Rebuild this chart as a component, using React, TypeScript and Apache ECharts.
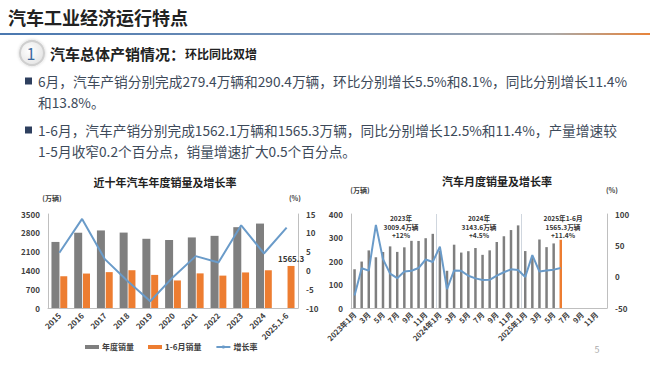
import React, { useEffect, useRef } from "react";
import * as echarts from "echarts";

const FONT = "'Noto Sans CJK SC', 'Noto Sans', sans-serif";

// Left chart: annual sales
const years = ["2015", "2016", "2017", "2018", "2019", "2020", "2021", "2022", "2023", "2024", "2025.1-6"];
const annualSales = [2459.8, 2802.8, 2887.9, 2808.1, 2576.9, 2531.1, 2627.5, 2686.4, 3009.4, 3143.6, null];
const halfYearSales = [1184.8, 1282.9, 1335.6, 1406.7, 1232.3, 1025.7, 1289.1, 1205.7, 1323.9, 1404.7, 1565.3];
const annualGrowth = [4.7, 13.7, 3.0, -2.8, -8.2, -1.8, 3.8, 2.1, 12.0, 4.5, 11.4];

// Right chart: monthly sales
const months = [
  "2023年1月", "2月", "3月", "4月", "5月", "6月", "7月", "8月", "9月", "10月", "11月", "12月",
  "2024年1月", "2月", "3月", "4月", "5月", "6月", "7月", "8月", "9月", "10月", "11月", "12月",
  "2025年1月", "2月", "3月", "4月", "5月", "6月", "7月", "8月", "9月", "10月", "11月", "12月",
];
const monthlySales = [
  164.9, 197.6, 245.1, 215.9, 238.2, 262.2, 238.7, 258.2, 285.8, 285.3, 297.0, 315.6,
  243.9, 158.4, 269.4, 235.9, 241.7, 255.2, 226.2, 245.3, 280.9, 305.3, 331.7, 351.6,
  242.3, 212.9, 291.5, 259.0, 274.8, 290.4,
];
const monthlyGrowth = [
  -30, 13.5, 9.7, 82.7, 27.9, 4.8, -2.4, 8.2, 9.5, 13.8, 27.4, 23.5,
  47.9, -19.9, 9.9, 9.3, 1.5, -2.7, -5.2, -5.0, 1.7, 7.0, 11.7, 10.5,
  -0.6, 34.4, 8.2, 9.8, 11.2, 13.8,
];

const annotations = [
  { x: 401, lines: ["2023年", "3009.4万辆", "+12%"] },
  { x: 479, lines: ["2024年", "3143.6万辆", "+4.5%"] },
  { x: 563, lines: ["2025年1-6月", "1565.3万辆", "+11.4%"] },
];

const bullets = [
  { y: 81, text: "6月，汽车产销分别完成279.4万辆和290.4万辆，环比分别增长5.5%和8.1%，同比分别增长11.4%", square: true },
  { y: 102, text: "和13.8%。", square: false },
  { y: 130, text: "1-6月，汽车产销分别完成1562.1万辆和1565.3万辆，同比分别增长12.5%和11.4%，产量增速较", square: true },
  { y: 151, text: "1-5月收窄0.2个百分点，销量增速扩大0.5个百分点。", square: false },
];

const GREY = "#7f7f7f";
const ORANGE = "#ed7d31";
const BLUE = "#6a9bc9";
const AXIS = "#bfbfbf";
const LABEL = "#404040";

export default function App() {
  const ref = useRef<HTMLDivElement>(null);
  useEffect(() => {
    if (!ref.current) return;
    const chart = echarts.init(ref.current, undefined, { renderer: "svg" });

    const axisLabel = { fontSize: 8, fontWeight: "bold", color: LABEL, fontFamily: FONT };
    const plain = (v: number) => String(v);

    const graphic: any[] = [
      {
        type: "text",
        style: { text: "汽车工业经济运行特点", x: 8, y: 17, fontSize: 18, fontWeight: "bold", fill: "#222", fontFamily: FONT, verticalAlign: "middle" },
      },
      {
        type: "rect",
        shape: { x: 0, y: 33, width: 650, height: 2 },
        style: {
          fill: new echarts.graphic.LinearGradient(0, 0, 1, 0, [
            { offset: 0, color: "#4a78b0" },
            { offset: 0.6, color: "#7f98b8" },
            { offset: 0.85, color: "#a9a9a9" },
            { offset: 1, color: "#e8843a" },
          ]),
        },
      },
      {
        type: "circle",
        shape: { cx: 32, cy: 53, r: 12 },
        style: {
          fill: new echarts.graphic.RadialGradient(0.4, 0.4, 0.7, [
            { offset: 0, color: "#ffffff" },
            { offset: 1, color: "#e2e2e2" },
          ]),
          stroke: "#cfcfcf",
          lineWidth: 2,
          shadowBlur: 3,
          shadowColor: "rgba(0,0,0,0.2)",
        },
      },
      {
        type: "text",
        style: { text: "1", x: 31, y: 53, fontSize: 16, fill: "#3b6aa0", fontFamily: FONT, align: "center", verticalAlign: "middle" },
      },
      {
        type: "text",
        style: {
          text: "{a|汽车总体产销情况：}{b|环比同比双增}",
          x: 50,
          y: 53,
          verticalAlign: "middle",
          rich: {
            a: { fontSize: 15, fontWeight: "bold", fill: "#222", fontFamily: FONT },
            b: { fontSize: 12, fontWeight: "bold", fill: "#222", fontFamily: FONT },
          },
        },
      },
      {
        type: "text",
        style: { text: "近十年汽车年度销量及增长率", x: 165, y: 182, fontSize: 11, fontWeight: "bold", fill: "#222", fontFamily: FONT, align: "center", verticalAlign: "middle" },
      },
      {
        type: "text",
        style: { text: "汽车月度销量及增长率", x: 497, y: 181, fontSize: 11, fontWeight: "bold", fill: "#222", fontFamily: FONT, align: "center", verticalAlign: "middle" },
      },
      { type: "text", style: { text: "(万辆)", x: 52, y: 198, fontSize: 7, fontWeight: "bold", fill: LABEL, fontFamily: FONT, align: "center", verticalAlign: "middle" } },
      { type: "text", style: { text: "(%)", x: 295, y: 198, fontSize: 7, fontWeight: "bold", fill: LABEL, fontFamily: FONT, align: "center", verticalAlign: "middle" } },
      { type: "text", style: { text: "(万辆)", x: 360, y: 190, fontSize: 7, fontWeight: "bold", fill: LABEL, fontFamily: FONT, align: "center", verticalAlign: "middle" } },
      { type: "text", style: { text: "(%)", x: 612, y: 190, fontSize: 7, fontWeight: "bold", fill: LABEL, fontFamily: FONT, align: "center", verticalAlign: "middle" } },
      { type: "text", style: { text: "5", x: 597, y: 349, fontSize: 9, fill: "#aaaaaa", fontFamily: FONT, align: "center", verticalAlign: "middle" } },
    ];

    bullets.forEach((b) => {
      if (b.square) {
        graphic.push({ type: "rect", shape: { x: 25, y: b.y - 3.5, width: 7, height: 7 }, style: { fill: "#2e3f5e" } });
      }
      graphic.push({
        type: "text",
        style: { text: b.text, x: 38, y: b.y, fontSize: 13.7, fill: "#3d4a5a", fontFamily: FONT, verticalAlign: "middle" },
      });
    });

    annotations.forEach((a) => {
      a.lines.forEach((l, i) => {
        graphic.push({
          type: "text",
          style: {
            text: l,
            x: a.x,
            y: 218 + i * 8.5,
            fontSize: 6.6,
            fontWeight: "bold",
            fill: "#333",
            fontFamily: FONT,
            align: "center",
            verticalAlign: "middle",
          },
        });
      });
    });

    const option: any = {
      animation: false,
      backgroundColor: "#ffffff",
      textStyle: { fontFamily: FONT },
      graphic,
      legend: {
        left: 80,
        top: 338,
        itemWidth: 14,
        itemHeight: 4,
        itemGap: 14,
        textStyle: { fontSize: 8, fontWeight: "bold", color: LABEL, fontFamily: FONT, padding: [0, 0, 0, -2] },
        data: [
          { name: "年度销量", icon: "rect" },
          { name: "1-6月销量", icon: "rect" },
          { name: "增长率" },
        ],
      },
      grid: [
        { left: 48, top: 214, width: 250, height: 94 },
        { left: 351, top: 214, width: 256, height: 94 },
      ],
      xAxis: [
        {
          type: "category",
          gridIndex: 0,
          data: years,
          axisLine: { lineStyle: { color: AXIS } },
          axisTick: { show: false },
          axisLabel: { ...axisLabel, rotate: 45, interval: 0, margin: 6 },
        },
        {
          type: "category",
          gridIndex: 1,
          data: months,
          axisLine: { lineStyle: { color: AXIS } },
          axisTick: { show: false },
          axisLabel: { ...axisLabel, fontSize: 7.5, rotate: 45, interval: 1, margin: 5 },
          splitLine: {
            show: true,
            interval: (i: number) => i === 12 || i === 24,
            lineStyle: { color: "#cfd6de", width: 1 },
          },
        },
      ],
      yAxis: [
        {
          type: "value",
          gridIndex: 0,
          min: 0,
          max: 3500,
          interval: 700,
          axisLine: { show: true, lineStyle: { color: AXIS } },
          splitLine: { show: false },
          axisLabel: { ...axisLabel, margin: 8, formatter: plain },
        },
        {
          type: "value",
          gridIndex: 0,
          position: "right",
          min: -10,
          max: 15,
          interval: 5,
          axisLine: { show: true, lineStyle: { color: AXIS } },
          splitLine: { show: false },
          axisLabel: { ...axisLabel, margin: 8, formatter: plain },
        },
        {
          type: "value",
          gridIndex: 1,
          min: 0,
          max: 400,
          interval: 100,
          axisLine: { show: true, lineStyle: { color: AXIS } },
          splitLine: { show: false },
          axisLabel: { ...axisLabel, margin: 8, formatter: plain },
        },
        {
          type: "value",
          gridIndex: 1,
          position: "right",
          min: -50,
          max: 100,
          interval: 50,
          axisLine: { show: true, lineStyle: { color: AXIS } },
          splitLine: { show: false },
          axisLabel: { ...axisLabel, margin: 8, formatter: plain },
        },
      ],
      series: [
        {
          name: "年度销量",
          type: "bar",
          xAxisIndex: 0,
          yAxisIndex: 0,
          data: annualSales,
          barWidth: 8,
          barGap: "10%",
          itemStyle: { color: GREY },
        },
        {
          name: "1-6月销量",
          type: "bar",
          xAxisIndex: 0,
          yAxisIndex: 0,
          data: halfYearSales.map((v, i) =>
            i === halfYearSales.length - 1
              ? { value: v, label: { show: true, position: "top", distance: 3, fontSize: 8, fontWeight: "bold", color: "#333", fontFamily: FONT } }
              : v
          ),
          barWidth: 7,
          itemStyle: { color: ORANGE },
        },
        {
          name: "增长率",
          type: "line",
          xAxisIndex: 0,
          yAxisIndex: 1,
          data: annualGrowth.map((v, i) =>
            i === annualGrowth.length - 1
              ? { value: v, label: { show: true, position: "top", distance: 4, fontSize: 8, fontWeight: "bold", color: "#333", fontFamily: FONT } }
              : v
          ),
          symbol: "none",
          lineStyle: { color: BLUE, width: 2 },
          itemStyle: { color: BLUE },
        },
        {
          name: "月度销量",
          type: "bar",
          xAxisIndex: 1,
          yAxisIndex: 2,
          data: monthlySales.map((v, i) =>
            i === monthlySales.length - 1 ? { value: v, itemStyle: { color: ORANGE } } : v
          ),
          barWidth: 2.5,
          itemStyle: { color: GREY },
        },
        {
          name: "月度增长率",
          type: "line",
          xAxisIndex: 1,
          yAxisIndex: 3,
          data: monthlyGrowth,
          symbol: "none",
          lineStyle: { color: BLUE, width: 2 },
          itemStyle: { color: BLUE },
        },
      ],
    };
    chart.setOption(option);
    return () => chart.dispose();
  }, []);
  return <div ref={ref} style={{ position: "fixed", left: 0, top: 0, width: 650, height: 366 }} />;
}
